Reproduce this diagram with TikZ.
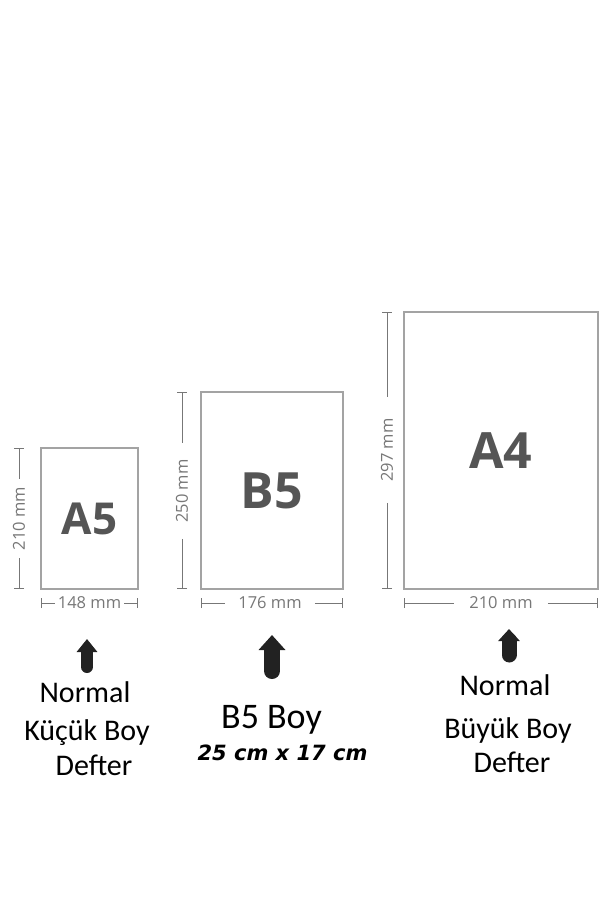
\documentclass[tikz,border=0pt]{standalone}
\usepackage{fontspec}
\setmainfont{Carlito}
\newfontfamily\sizefont{Open Sans}
\newfontfamily\notefont{DejaVu Sans}
\usetikzlibrary{positioning, arrows.meta}
\definecolor{pagegray}{HTML}{A3A3A3}
\definecolor{dimgray}{HTML}{777777}
\definecolor{namegray}{HTML}{555555}
\definecolor{arrowblack}{HTML}{222222}

\begin{document}
\begin{tikzpicture}[x=1pt, y=-1pt,
  page/.style={draw=pagegray, line width=1.2pt, inner sep=0pt, text=namegray,
    font=\sizefont\bfseries\fontsize{50}{50}\selectfont},
  dimline/.style={draw=dimgray, line width=1pt},
  dimtext/.style={text=dimgray, font=\sizefont\fontsize{16.5}{16.5}\selectfont, inner ysep=0pt},
  caption/.style={font=\fontsize{30}{30}\selectfont, inner sep=0pt, anchor=base},
  bigarrow/.style={draw=arrowblack, line cap=round}]

\useasboundingbox (0,0) rectangle (613,920);

% pages
\node[page, minimum width=97pt, minimum height=141pt, font=\sizefont\bfseries\fontsize{44}{44}\selectfont] at (89.5,518.5) (a5) {A5};
\node[page, minimum width=142pt, minimum height=197pt] at (272,490.5) (b5) {B5};
\node[page, minimum width=194pt, minimum height=277pt] at (501,450.5) (a4) {A4};

% heights
\coordinate (ta5) at (19,448);
\coordinate (ba5) at (19,589);
\coordinate (tb5) at (182,392);
\coordinate (bb5) at (182,589);
\coordinate (ta4) at (387,312);
\coordinate (ba4) at (387,589);

\node[dimtext, rotate=90, inner xsep=8pt] at (19,518.5) (va5) {210 mm};
\node[dimtext, rotate=90, inner xsep=16pt] at (182,491) (vb5) {250 mm};
\node[dimtext, rotate=90, inner xsep=21pt] at (387,450) (va4) {297 mm};

\draw [dimline, {Bar[width=10pt]}-] (ta5) to (va5.east);
\draw [dimline, -{Bar[width=10pt]}] (va5.west) to (ba5);
\draw [dimline, {Bar[width=10pt]}-] (tb5) to (vb5.east);
\draw [dimline, -{Bar[width=10pt]}] (vb5.west) to (bb5);
\draw [dimline, {Bar[width=10pt]}-] (ta4) to (va4.east);
\draw [dimline, -{Bar[width=10pt]}] (va4.west) to (ba4);

% widths
\coordinate (la5) at (40.5,603);
\coordinate (ra5) at (138,603);
\coordinate (lb5) at (201,603);
\coordinate (rb5) at (343,603);
\coordinate (la4) at (404,603);
\coordinate (ra4) at (598,603);

\node[dimtext, inner xsep=3pt] at (89.5,603) (ha5) {148 mm};
\node[dimtext, inner xsep=13pt] at (270,603) (hb5) {176 mm};
\node[dimtext, inner xsep=15pt] at (501,603) (ha4) {210 mm};

\draw [dimline, {Bar[width=10pt]}-] (la5) to (ha5.west);
\draw [dimline, -{Bar[width=10pt]}] (ha5.east) to (ra5);
\draw [dimline, {Bar[width=10pt]}-] (lb5) to (hb5.west);
\draw [dimline, -{Bar[width=10pt]}] (hb5.east) to (rb5);
\draw [dimline, {Bar[width=10pt]}-] (la4) to (ha4.west);
\draw [dimline, -{Bar[width=10pt]}] (ha4.east) to (ra4);

% pointers
\coordinate (pa5) at (87,667);
\coordinate (qa5) at (87,639);
\coordinate (pb5) at (272,671);
\coordinate (qb5) at (272,635);
\coordinate (pa4) at (509,655);
\coordinate (qa4) at (509,629);

\draw [bigarrow, line width=12pt, -{Triangle[length=13pt, width=20pt]}] (pa5) to (qa5);
\draw [bigarrow, line width=16pt, -{Triangle[length=15pt, width=26pt]}] (pb5) to (qb5);
\draw [bigarrow, line width=15pt, -{Triangle[length=12pt, width=21pt]}] (pa4) to (qa4);

% captions
\node[caption] at (85,702) (ca5) {Normal};
\node[caption] at (87,740) (da5) {Küçük Boy};
\node[caption] at (94,775) (ea5) {Defter};

\node[caption, font=\fontsize{36}{36}\selectfont] at (271.5,728) (cb5) {B5 Boy};
\node[caption, font=\notefont\bfseries\itshape\fontsize{21}{21}\selectfont] at (282.5,760) (db5) {25 cm x 17 cm};

\node[caption] at (505,695) (ca4) {Normal};
\node[caption] at (508,738) (da4) {Büyük Boy};
\node[caption] at (512,772) (ea4) {Defter};

\end{tikzpicture}
\end{document}
